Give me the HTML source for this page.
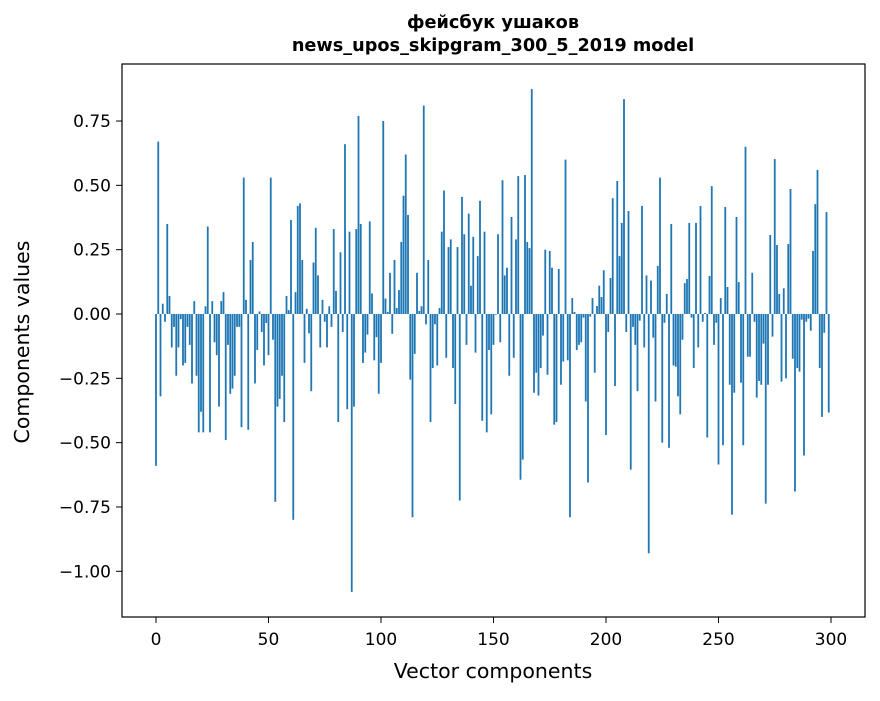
<!DOCTYPE html>
<html><head><meta charset="utf-8"><style>
body{margin:0;background:#fff;}
svg text{font-family:"DejaVu Sans","Liberation Sans",sans-serif;fill:#000;}
</style></head><body>
<svg id="chart" width="880" height="696" xmlns="http://www.w3.org/2000/svg">
<rect width="880" height="696" fill="#fff"/>
<text x="493" y="28" text-anchor="middle" font-size="17.7" font-weight="bold">фейсбук ушаков</text>
<text x="493" y="51" text-anchor="middle" font-size="17.7" font-weight="bold">news_upos_skipgram_300_5_2019 model</text>
<g id="bars"></g>
<g id="axes"></g>
<rect x="122" y="64" width="743" height="553" fill="none" stroke="#000" stroke-width="1.2"/>
<text x="493" y="678" text-anchor="middle" font-size="20.5">Vector components</text>
<text transform="translate(29,342) rotate(-90)" text-anchor="middle" font-size="20.5">Components values</text>
</svg>
<script>
const seg1 = [-0.59,0.67,-0.32,0.04,-0.03,0.35,0.07,-0.13,-0.05,-0.24,-0.13,-0.02,-0.2,-0.19,-0.05,-0.12,-0.27,0.05,-0.24,-0.46,-0.38,-0.46,0.03,0.34,-0.46,0.05,-0.11,-0.16,-0.36,0.05,0.085,-0.49,-0.12,-0.31,-0.29,-0.24,-0.05,-0.05,-0.44,0.53,0.055,-0.45,0.21,0.28,-0.27,-0.14,0.01,-0.07,-0.2];
const seg2 = [-0.035,-0.16,0.53,-0.1,-0.73,-0.36,-0.33,-0.24,-0.42,0.07,0.015,0.365,-0.8,0.085,0.42,0.43,0.21,-0.19,0.02,-0.075,-0.3,0.2,0.335,0.15,-0.13,0.055,-0.03,-0.13,0.03,-0.05,0.33,0.09,-0.42,0.24,-0.07,0.66,-0.37,0.32,-1.08,-0.36,0.33,0.77,0.35,-0.19,-0.15,-0.08,0.36,0.08,-0.18];
const seg3 = [-0.09,-0.31,-0.19,0.75,0.06,0.008,0.16,-0.077,0.21,0.023,0.093,0.28,0.46,0.62,0.385,-0.255,-0.79,-0.155,0.16,0.012,0.03,0.81,-0.04,0.21,-0.42,-0.21,-0.04,-0.2,0.023,0.32,0.48,-0.17,0.26,0.29,-0.21,-0.35,0.26,-0.725,0.455,0.31,-0.12,0.39,0.11,0.3,-0.15,0.225,0.44,-0.415,0.32,-0.46];
const seg4 = [-0.14,-0.39,-0.12,-0.003,0.31,-0.11,0.52,0.15,0.18,-0.24,0.377,-0.17,0.29,0.536,-0.644,-0.566,0.54,0.28,0.256,0.874,-0.306,-0.228,-0.317,-0.21,-0.084,0.25,-0.236,0.245,0.18,-0.43,-0.42,0.175,-0.275,-0.185,0.6,-0.18,-0.79,0.062,0.008,-0.14,-0.12,-0.11,-0.014,-0.34,-0.655,-0.01,0.062,-0.228,0.031,0.11];
const seg5 = [0.066,0.17,-0.47,-0.07,0.14,0.45,-0.28,0.517,0.225,0.354,0.835,-0.07,0.4,-0.605,-0.05,-0.12,-0.3,-0.026,0.42,-0.13,0.15,-0.93,0.13,-0.092,-0.34,0.187,0.53,-0.5,-0.034,0.078,-0.52,0.35,-0.2,-0.205,-0.32,-0.39,-0.1,0.12,0.136,0.354,-0.014,-0.21,0.354,-0.13,0.42,-0.03,0.004,-0.48,0.148,0.497];
const seg6 = [-0.12,-0.034,-0.585,0.062,-0.51,0.416,0.105,-0.275,-0.78,-0.306,0.377,0.124,-0.267,-0.51,0.65,-0.166,-0.166,0.16,-0.03,-0.325,-0.26,-0.275,-0.115,-0.737,-0.275,0.307,-0.088,0.602,0.268,0.078,-0.263,0.1,-0.25,0.272,0.486,-0.174,-0.69,-0.21,-0.224,-0.022,-0.55,-0.03,-0.018,-0.065,0.245,0.427,0.56,-0.21,-0.4,-0.073,0.396,-0.383];
const values = [].concat(seg1,seg2,seg3,seg4,seg5,seg6);
const xTicks = [0,50,100,150,200,250,300];
const yTicks = [0.75,0.5,0.25,0,-0.25,-0.5,-0.75,-1.0];
const yTickLabels = ["0.75","0.50","0.25","0.00","\u22120.25","\u22120.50","\u22120.75","\u22121.00"];

const NS="http://www.w3.org/2000/svg";
function xs(v){return 156+v*2.25;}
function ys(v){return 314-v*257.3;}
const bars=document.getElementById('bars');
values.forEach(function(v,i){
  const r=document.createElementNS(NS,'rect');
  const y0=ys(0), y1=ys(v);
  r.setAttribute('x',xs(i-0.4));
  r.setAttribute('width',xs(0.8)-xs(0));
  r.setAttribute('y',Math.min(y0,y1));
  r.setAttribute('height',Math.max(Math.abs(y1-y0),0.3));
  r.setAttribute('fill','#1f77b4');
  
  
  bars.appendChild(r);
});
const axes=document.getElementById('axes');
xTicks.forEach(function(t){
  const l=document.createElementNS(NS,'line');
  l.setAttribute('x1',xs(t));l.setAttribute('x2',xs(t));
  l.setAttribute('y1',617);l.setAttribute('y2',623);
  l.setAttribute('stroke','#000');
  
  
  axes.appendChild(l);
  const tx=document.createElementNS(NS,'text');
  tx.setAttribute('x',xs(t));tx.setAttribute('y',645);
  tx.setAttribute('text-anchor','middle');tx.setAttribute('font-size','17');
  tx.textContent=String(t);
  
  
  axes.appendChild(tx);
});
yTicks.forEach(function(t,i){
  const l=document.createElementNS(NS,'line');
  l.setAttribute('x1',116);l.setAttribute('x2',122);
  l.setAttribute('y1',ys(t));l.setAttribute('y2',ys(t));
  l.setAttribute('stroke','#000');
  
  
  axes.appendChild(l);
  const tx=document.createElementNS(NS,'text');
  tx.setAttribute('x',111);tx.setAttribute('y',ys(t)+6);
  tx.setAttribute('text-anchor','end');tx.setAttribute('font-size','17');
  tx.textContent=yTickLabels[i];
  
  
  axes.appendChild(tx);
});
</script>
</body></html>
